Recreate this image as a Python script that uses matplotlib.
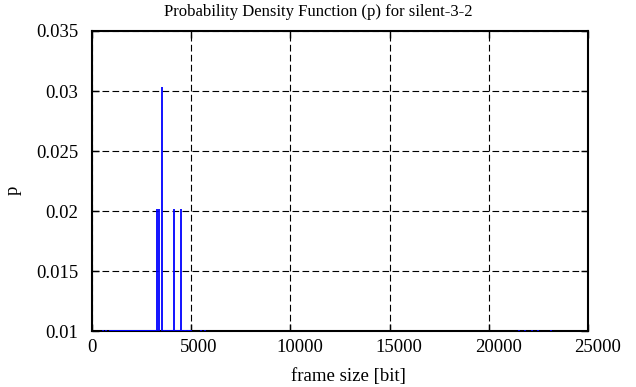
import matplotlib
matplotlib.use("Agg")
import matplotlib.pyplot as plt
from matplotlib.ticker import FixedLocator
from matplotlib.transforms import ScaledTranslation

title = "Probability Density Function (p) for silent-3-2"
xlabel = "frame size [bit]"
ylabel = "p"

# frame sizes with higher probability
peak_sizes = [3300, 3400, 3540, 4120, 4470]
peak_p = [0.0202, 0.0202, 0.0303, 0.0202, 0.0202]

# frame sizes occurring once (p ~ 0.0101)
single_sizes = [550, 700, 910, 960, 1010, 1060, 1110, 1160, 1210, 1260, 1310,
                1360, 1410, 1460, 1510, 1560, 1610, 1660, 1710, 1760, 1810,
                1860, 1910, 1960, 2010, 2060, 2110, 2160, 2210, 2260, 2310,
                2360, 2410, 2460, 2510, 2560, 2610, 2660, 2710, 2760, 2810,
                2860, 2910, 2960, 3010, 3060, 3110, 3160, 3210, 3610, 3700,
                3790, 3880, 3970, 4060, 4200, 4290, 4380, 4560, 4650, 4700,
                4760, 4820, 4880, 4940, 5000, 5500, 5700,
                21530, 21820, 22160, 22490, 23120]
single_p = [0.0101] * len(single_sizes)

xticks = [0, 5000, 10000, 15000, 20000, 25000]
xtick_labels = ["0", "5000", "10000", "15000", "20000", "25000"]
yticks = [0.01, 0.015, 0.02, 0.025, 0.03, 0.035]
ytick_labels = ["0.01", "0.015", "0.02", "0.025", "0.03", "0.035"]

plt.rcParams['font.family'] = ['Liberation Serif', 'DejaVu Serif']
plt.rcParams['font.size'] = 13.5

fig = plt.figure(figsize=(6.36, 3.87), dpi=100)
ax = fig.add_axes([92/636, 1-331/387, (588-92)/636, (331-31)/387])

ax.vlines(single_sizes, 0, single_p, colors='#0000ff', linewidth=1.3, zorder=3)
ax.vlines(peak_sizes, 0, peak_p, colors='#0000ff', linewidth=1.3, zorder=3)

ax.set_xlim(0, 25000)
ax.set_ylim(0.01, 0.035)
ax.xaxis.set_major_locator(FixedLocator(xticks))
ax.set_xticklabels(xtick_labels)
ax.set_yticks(yticks)
ax.set_yticklabels(ytick_labels)

ax.grid(True, color='black', linestyle=(0, (6, 3)), linewidth=0.8)
ax.tick_params(direction='in', top=True, right=True, length=5, width=1)
ax.tick_params(axis='x', pad=6)
ax.tick_params(axis='y', pad=10)
for s in ax.spines.values():
    s.set_linewidth(1.5)

# shift x tick labels slightly right, like the reference rendering
for lab, txt in zip(ax.get_xticklabels(), xtick_labels):
    dx = (len(txt) - 1) * 1.7 / 72
    lab.set_transform(lab.get_transform() + ScaledTranslation(dx, 0, fig.dpi_scale_trans))

fig.text(0.5, 1 - 12/387, title, fontsize=12, ha='center', va='center')
ax.set_xlabel(xlabel, va='center', ha='center')
ax.xaxis.set_label_coords((348 - 92) / 496, (331 - 376) / 300)
ax.set_ylabel(ylabel, va='center', ha='center')
ax.yaxis.set_label_coords((13 - 92) / 496, (331 - 190) / 300)

fig.savefig("out.png", dpi=100)
